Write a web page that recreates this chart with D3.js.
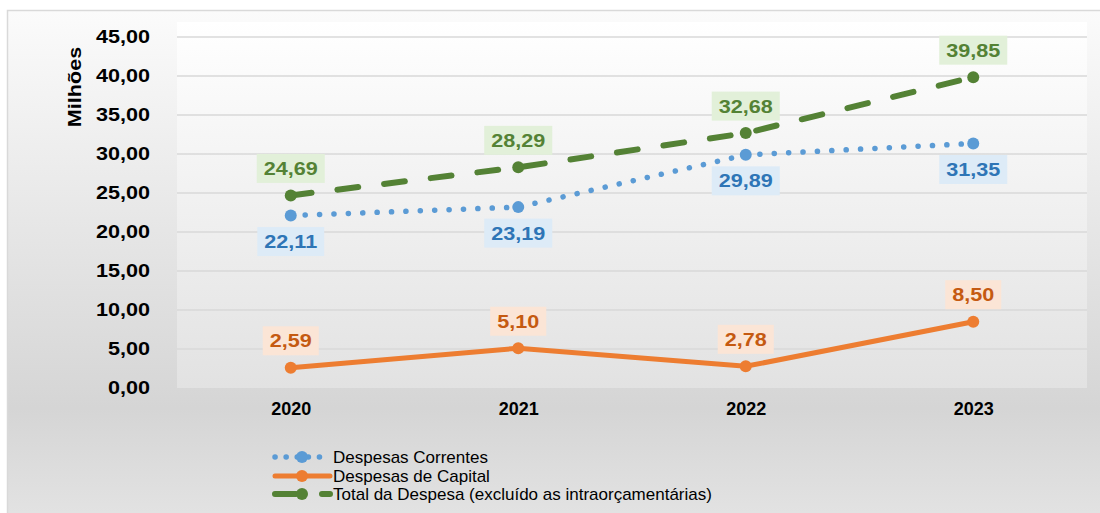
<!DOCTYPE html>
<html>
<head>
<meta charset="utf-8">
<script src="https://cdn.jsdelivr.net/npm/d3@7"></script>
<style>
  body { margin: 0; background: #ffffff; overflow: hidden; }
  text { font-family: "Liberation Sans", Arial, sans-serif; }
</style>
</head>
<body>
<div id="chart"></div>
<script>
// data (values in millions)
const years = ["2020", "2021", "2022", "2023"];
const despesasCorrentes = [22.11, 23.19, 29.89, 31.35];
const despesasCapital = [2.59, 5.10, 2.78, 8.50];
const totalDespesa = [24.69, 28.29, 32.68, 39.85];
const yTicks = [0, 5, 10, 15, 20, 25, 30, 35, 40, 45];

const width = 1100, height = 513;
const plot = { left: 177, right: 1087, top: 22, bottom: 388 };

const ptBR = d3.formatLocale({ decimal: ",", thousands: ".", grouping: [3], currency: ["", ""] });
const fmt = ptBR.format(".2f");

const svg = d3.select("#chart").append("svg")
    .attr("width", width)
    .attr("height", height)
    .style("display", "block");

const defs = svg.append("defs");
const outerGrad = defs.append("linearGradient").attr("id", "outerGrad")
    .attr("x1", 0).attr("y1", 0).attr("x2", 0).attr("y2", 1);
outerGrad.append("stop").attr("offset", "0%").attr("stop-color", "#fbfbfb");
outerGrad.append("stop").attr("offset", "78%").attr("stop-color", "#d5d5d5");
outerGrad.append("stop").attr("offset", "100%").attr("stop-color", "#e3e3e3");

const plotGrad = defs.append("linearGradient").attr("id", "plotGrad")
    .attr("x1", 0).attr("y1", 0).attr("x2", 0).attr("y2", 1);
plotGrad.append("stop").attr("offset", "0%").attr("stop-color", "#ffffff");
plotGrad.append("stop").attr("offset", "100%").attr("stop-color", "#e2e2e2");

// chart frame (runs off the right and bottom edges)
svg.append("rect")
    .attr("x", 7.5).attr("y", 10.5)
    .attr("width", 1100).attr("height", 510)
    .attr("fill", "url(#outerGrad)")
    .attr("stroke", "#d9d9d9")
    .attr("stroke-width", 1.5);

svg.append("rect")
    .attr("x", plot.left).attr("y", plot.top)
    .attr("width", plot.right - plot.left).attr("height", plot.bottom - plot.top)
    .attr("fill", "url(#plotGrad)");

const x = d3.scalePoint()
    .domain(years)
    .range([plot.left, plot.right])
    .padding(0.5);

const y = d3.scaleLinear()
    .domain([0, 45])
    .range([plot.bottom, 37]);

// stretch text horizontally like the original
function stretch(sel, k) {
    sel.each(function() {
        const w = this.getComputedTextLength();
        d3.select(this).attr("textLength", w * k).attr("lengthAdjust", "spacingAndGlyphs");
    });
}

// gridlines
svg.append("g")
    .selectAll("line")
    .data(yTicks.filter(d => d > 0))
    .join("line")
    .attr("x1", plot.left).attr("x2", plot.right)
    .attr("y1", d => y(d)).attr("y2", d => y(d))
    .attr("stroke", "#d9d9d9")
    .attr("stroke-width", 1.5);

// y axis
const yAxis = svg.append("g")
    .attr("transform", `translate(${plot.left},0)`)
    .call(d3.axisLeft(y).tickValues(yTicks).tickFormat(fmt).tickSize(0).tickPadding(27));
yAxis.select(".domain").remove();
yAxis.selectAll("text")
    .attr("font-family", "Liberation Sans, Arial, sans-serif")
    .attr("font-size", 18)
    .attr("font-weight", "bold")
    .attr("fill", "#000")
    .call(stretch, 1.2);

// x axis
const xAxis = svg.append("g")
    .attr("transform", `translate(0,${plot.bottom})`)
    .call(d3.axisBottom(x).tickSize(0).tickPadding(14));
xAxis.select(".domain").remove();
xAxis.selectAll("text")
    .attr("font-family", "Liberation Sans, Arial, sans-serif")
    .attr("font-size", 18)
    .attr("font-weight", "bold")
    .attr("fill", "#000");

// axis title
svg.append("text")
    .attr("transform", "translate(81,87) rotate(-90)")
    .attr("text-anchor", "middle")
    .attr("font-size", 18)
    .attr("font-weight", "bold")
    .text("Milhões")
    .call(stretch, 1.2);

const series = [
    { name: "Despesas Correntes", values: despesasCorrentes, color: "#5b9bd5", text: "#2e75b6", box: "#ddebf7",
      width: 5.5, dash: "0.1 14.3", below: true },
    { name: "Despesas de Capital", values: despesasCapital, color: "#ed7d31", text: "#c55a11", box: "#fbe5d6",
      width: 5, dash: null, below: false },
    { name: "Total da Despesa (excluído as intraorçamentárias)", values: totalDespesa, color: "#548235", text: "#548235", box: "#e2f0d9",
      width: 6, dash: "21 26", below: false }
];

const line = d3.line()
    .x((d, i) => x(years[i]))
    .y(d => y(d));

series.forEach(s => {
    svg.append("path")
        .datum(s.values)
        .attr("d", line)
        .attr("fill", "none")
        .attr("stroke", s.color)
        .attr("stroke-width", s.width)
        .attr("stroke-linecap", "round")
        .attr("stroke-dasharray", s.dash);

    svg.append("g")
        .selectAll("circle")
        .data(s.values)
        .join("circle")
        .attr("cx", (d, i) => x(years[i]))
        .attr("cy", d => y(d))
        .attr("r", 6)
        .attr("fill", s.color);
});

// data labels
series.forEach(s => {
    const g = svg.append("g");
    s.values.forEach((v, i) => {
        const cx = x(years[i]);
        const cy = y(v) + (s.below ? 26 : -27);
        const lbl = g.append("g");
        const rect = lbl.append("rect");
        const t = lbl.append("text")
            .attr("x", cx)
            .attr("y", cy)
            .attr("dy", "0.36em")
            .attr("text-anchor", "middle")
            .attr("font-size", 18)
            .attr("font-weight", "bold")
            .attr("fill", s.text)
            .text(fmt(v))
            .call(stretch, 1.2);
        const w = +t.attr("textLength") + 14;
        rect.attr("x", cx - w / 2).attr("y", cy - 14.5)
            .attr("width", w).attr("height", 29)
            .attr("fill", s.box);
    });
});

// legend
const legend = svg.append("g");
const legendY = [457, 476, 494];
const lx0 = 275, lx1 = 330, lxm = 302;
series.forEach((s, i) => {
    const ly = legendY[i];
    const row = legend.append("g");
    row.append("line")
        .attr("x1", lx0).attr("x2", lx1)
        .attr("y1", ly).attr("y2", ly)
        .attr("stroke", s.color)
        .attr("stroke-width", s.width)
        .attr("stroke-linecap", "round")
        .attr("stroke-dasharray", s.dash ? (i === 0 ? "0.1 11" : "21 26") : null);
    row.append("circle")
        .attr("cx", lxm).attr("cy", ly)
        .attr("r", 6)
        .attr("fill", s.color);
    row.append("text")
        .attr("x", lx1 + 3)
        .attr("y", ly)
        .attr("dy", "0.36em")
        .attr("font-size", 17)
        .attr("fill", "#000")
        .text(s.name);
});
</script>
</body>
</html>
